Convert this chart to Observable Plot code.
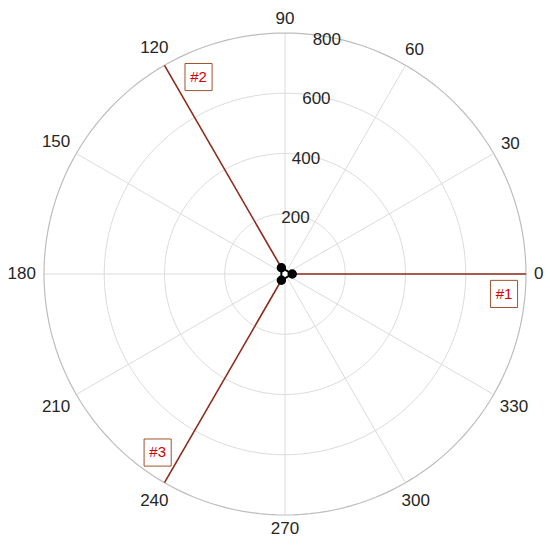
<!DOCTYPE html>
<html>
<head>
<meta charset="utf-8">
<script src="https://cdn.jsdelivr.net/npm/d3@7"></script>
<script src="https://cdn.jsdelivr.net/npm/@observablehq/plot@0.6"></script>
<style>
  html, body { margin: 0; padding: 0; background: #fff; }
  svg { display: block; }
</style>
</head>
<body>
<div id="chart"></div>
<script>
// ---- data ----
const angleTicks = [0, 30, 60, 90, 120, 150, 180, 210, 240, 270, 300, 330];
const radialTicks = [200, 400, 600, 800];
const rMax = 800;
const rayAngles = [0, 120, 240];
const rayRadius = [800, 800, 800];
const sensorRadius = [24, 24, 24];
const sourceLabels = ["#1", "#2", "#3"];
const labelAngles = [-5.2, 113.7, 234.5];
const labelRadius = [730, 714, 728];

// ---- helpers ----
const upp = 800 / 241; // units per pixel
const cx = 284.5, cy = 273.5, W = 550, H = 549;
const rad = d => d * Math.PI / 180;
const px = (a, r) => r * Math.cos(rad(a));
const py = (a, r) => r * Math.sin(rad(a));
// label offset outside the rim: gap plus half-extent of the text along the direction
const tickR = a => {
  const w = String(a).length * 9.5, h = 12;
  const ext = Math.abs(Math.cos(rad(a))) * w / 2 + Math.abs(Math.sin(rad(a))) * h / 2;
  return rMax + (8 + ext) * upp;
};

const circlePts = [];
for (const r of radialTicks) {
  for (let a = 0; a <= 360; a += 2) circlePts.push({r, a});
}
const spokes = angleTicks.map(a => ({a}));
const rays = rayAngles.map((a, i) => ({a, r: rayRadius[i], r0: 0}));
const sensors = rayAngles.map((a, i) => ({a, r: sensorRadius[i]}));
const triangle = [...sensors, sensors[0]];
const labels = sourceLabels.map((t, i) => ({t, a: labelAngles[i], r: labelRadius[i]}));

const chart = Plot.plot({
  width: W,
  height: H,
  margin: 0,
  x: {domain: [-cx * upp, (W - cx) * upp], axis: null},
  y: {domain: [-(H - cy) * upp, cy * upp], axis: null},
  style: {fontFamily: "'Liberation Sans', Arial, sans-serif", background: "#fff"},
  marks: [
    Plot.link(spokes, {
      x1: 0, y1: 0,
      x2: d => px(d.a, rMax), y2: d => py(d.a, rMax),
      stroke: "#dcdcdc", strokeWidth: 1
    }),
    Plot.line(circlePts.filter(d => d.r < rMax), {
      x: d => px(d.a, d.r), y: d => py(d.a, d.r), z: "r",
      stroke: "#dcdcdc", strokeWidth: 1
    }),
    Plot.line(circlePts.filter(d => d.r === rMax), {
      x: d => px(d.a, d.r), y: d => py(d.a, d.r),
      stroke: "#bdbdbd", strokeWidth: 1.2
    }),
    Plot.text(angleTicks, {
      x: d => px(d, tickR(d)), y: d => py(d, tickR(d)),
      text: d => String(d), fontSize: 17, fill: "#262626"
    }),
    Plot.text(radialTicks, {
      x: d => px(80, d), y: d => py(80, d),
      text: d => String(d), fontSize: 17, fill: "#262626", dy: 3
    }),
    Plot.link(rays, {
      x1: d => px(d.a, d.r0), y1: d => py(d.a, d.r0),
      x2: d => px(d.a, d.r), y2: d => py(d.a, d.r),
      stroke: "#8e2b1c", strokeWidth: 1.6
    }),
    Plot.line(triangle, {
      x: d => px(d.a, d.r), y: d => py(d.a, d.r),
      stroke: "#000", strokeWidth: 2, fill: "#fff"
    }),
    Plot.dot(sensors, {
      x: d => px(d.a, d.r), y: d => py(d.a, d.r),
      r: 4, fill: "#000", stroke: "#000"
    }),
    Plot.dot(labels, {
      x: d => px(d.a, d.r), y: d => py(d.a, d.r),
      symbol: "square", r: 15.3, fill: "#fff", stroke: "#a0522d", strokeWidth: 1
    }),
    Plot.text(labels, {
      x: d => px(d.a, d.r), y: d => py(d.a, d.r),
      text: "t", fontSize: 15, fill: "#d40000"
    })
  ]
});
document.getElementById("chart").appendChild(chart);
</script>
</body>
</html>
